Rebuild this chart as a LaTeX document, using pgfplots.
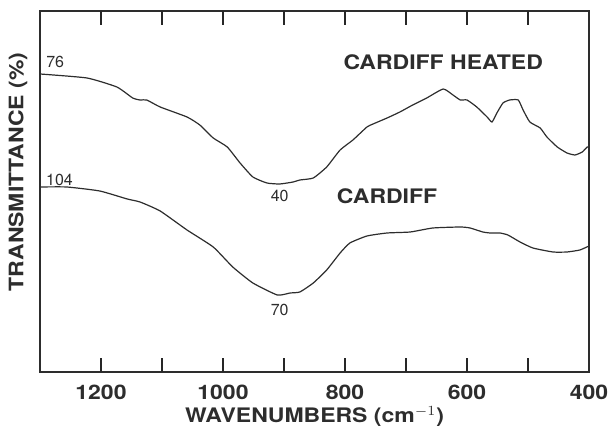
\documentclass[border=0pt]{standalone}
\usepackage{pgfplots}
\pgfplotsset{compat=1.18}
\usepackage{fontspec}
\setmainfont{TeX Gyre Heros}
\newfontfamily\widefont[FakeStretch=1.15]{TeX Gyre Heros}
\definecolor{ink}{RGB}{45,45,45}

\begin{document}
\begin{tikzpicture}
  \begin{axis}[
      scale only axis,
      width=274.5pt, height=180.5pt,
      xmin=400, xmax=1300, ymin=0, ymax=361,
      x dir=reverse,
      axis line style={ink, line width=1.1pt},
      xtick={400,600,800,1000,1200},
      ytick=\empty,
      major tick length=0pt,
      tick label style={font=\widefont\bfseries\fontsize{10}{11}\selectfont, text=ink},
      xticklabel style={yshift=-3pt},
      /pgf/number format/set thousands separator={},
      /pgf/number format/assume math mode=true,
      xlabel={WAVENUMBERS (cm$^{-1}$)},
      ylabel={TRANSMITTANCE (\%)},
      label style={font=\widefont\bfseries\fontsize{10}{11}\selectfont, text=ink},
      xlabel style={at={(axis description cs:0.5,-0.124)}, anchor=center},
      ylabel style={at={(axis description cs:-0.04,0.554)}, anchor=center},
      clip=false,
    ]
    % Cardiff heated
    \addplot[ink, line width=0.6pt, smooth, tension=0.3] coordinates {
      (1300,298) (1223,294) (1174,285) (1148,274) (1136,272) (1125,272)
      (1103,265) (1059,255) (1038,247) (1016,234) (993,225) (972,209)
      (951,195) (928,189) (907,188) (885,190) (874,192) (852,194)
      (830,205) (808,222) (787,232) (764,245) (754,248) (731,254)
      (710,260) (689,267) (666,274) (639,283) (623,277) (611,272)
      (600,272) (584,265) (567,255) (559,250) (551,259) (541,269)
      (530,272) (516,272) (508,262) (497,250) (480,244) (469,235)
      (452,225) (436,219) (423,217) (411,220) (403,225) (400,225)
    };
    % Cardiff
    \addplot[ink, line width=0.6pt, smooth, tension=0.3] coordinates {
      (1300,185) (1256,185) (1202,181) (1157,173) (1136,170) (1103,161)
      (1059,142) (1016,125) (984,105) (951,89) (911,77) (890,79)
      (874,80) (852,89) (830,102) (808,119) (792,129) (764,136)
      (731,139) (693,140) (656,144) (611,145) (595,144) (574,140)
      (562,139) (546,139) (533,137) (513,130) (492,124) (459,120)
      (436,120) (415,122) (400,126)
    };
    % tick marks on bottom and top frame
    \pgfplotsinvokeforeach{500,600,...,1200}{
      \draw[black!85, line width=1.3pt] (axis cs:#1,0) -- (axis cs:#1,14);
      \draw[black!85, line width=1.3pt] (axis cs:#1,361) -- (axis cs:#1,347);
    }
    \node[font=\fontsize{8}{9}\selectfont, text=ink] at (axis cs:1275,310) {76};
    \node[font=\fontsize{8}{9}\selectfont, text=ink] at (axis cs:1268,192) {104};
    \node[font=\fontsize{8}{9}\selectfont, text=ink] at (axis cs:907,176) {40};
    \node[font=\fontsize{8}{9}\selectfont, text=ink] at (axis cs:907,62) {70};
    \node[font=\widefont\bfseries\fontsize{10}{11}\selectfont, text=ink] at (axis cs:639,310) {CARDIFF HEATED};
    \node[font=\widefont\bfseries\fontsize{10}{11}\selectfont, text=ink] at (axis cs:731,176) {CARDIFF};
  \end{axis}
  \pgfresetboundingbox
  \useasboundingbox (-20pt,-27pt) rectangle (284.5pt,186pt);
\end{tikzpicture}
\end{document}
